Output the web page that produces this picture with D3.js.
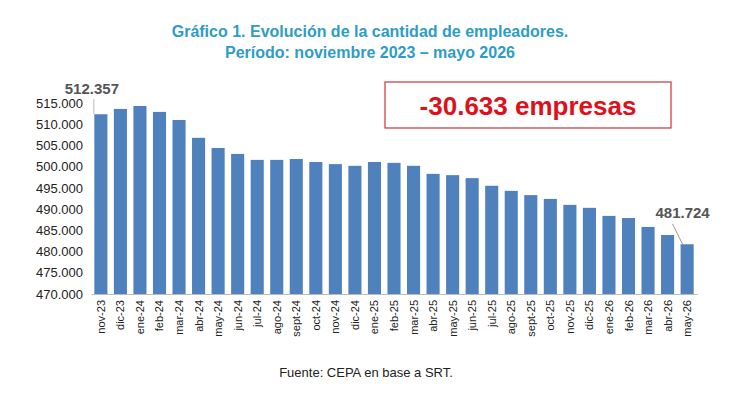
<!DOCTYPE html>
<html><head><meta charset="utf-8">
<script src="https://cdn.jsdelivr.net/npm/d3@7"></script>
<style>body{margin:0;background:#fff;font-family:Arial,"Liberation Sans",sans-serif}</style>
</head><body><svg id="c" width="740" height="400"></svg>
<script>
const categories=["nov-23","dic-23","ene-24","feb-24","mar-24","abr-24","may-24","jun-24","jul-24","ago-24","sept-24","oct-24","nov-24","dic-24","ene-25","feb-25","mar-25","abr-25","may-25","jun-25","jul-25","ago-25","sept-25","oct-25","nov-25","dic-25","ene-26","feb-26","mar-26","abr-26","may-26"];
const values=[512357,513600,514300,512900,511000,506800,504400,503000,501600,501600,501800,501100,500600,500200,501100,500900,500200,498300,498000,497300,495500,494300,493300,492400,491000,490300,488400,487900,485800,483900,481724];
const yTicks=[470000,475000,480000,485000,490000,495000,500000,505000,510000,515000];
const fmt=v=>d3.format(",")(v).replace(/,/g,".");
const svg=d3.select("#c");
const x=d3.scaleBand().domain(categories).range([91,697]).paddingInner(0.33).paddingOuter(0.17);
const y=d3.scaleLinear().domain([470000,515000]).range([294,103]);
svg.append("text").attr("x",370).attr("y",37).attr("text-anchor","middle").attr("fill","#2e9cc6").attr("font-weight","bold").attr("font-size",16).text("Gráfico 1. Evolución de la cantidad de empleadores.");
svg.append("text").attr("x",370).attr("y",58).attr("text-anchor","middle").attr("fill","#2e9cc6").attr("font-weight","bold").attr("font-size",16).text("Período: noviembre 2023 – mayo 2026");
svg.selectAll("rect.b").data(values).join("rect").attr("class","b")
 .attr("x",(d,i)=>x(categories[i])).attr("width",x.bandwidth())
 .attr("y",d=>y(d)).attr("height",d=>294-y(d)).attr("fill","#4f81bd");
const ya=svg.append("g").attr("transform","translate(86,0)").call(d3.axisLeft(y).tickValues(yTicks).tickFormat(fmt).tickSize(0));
ya.select(".domain").remove();
ya.selectAll("text").attr("font-size",13).attr("fill","#222").attr("font-family","Arial,'Liberation Sans',sans-serif");
const xa=svg.append("g").attr("transform","translate(0,294)").call(d3.axisBottom(x).tickSize(0));
xa.select(".domain").attr("stroke","#bbb");
xa.selectAll("text").attr("font-size",11).attr("fill","#222").attr("font-family","Arial,'Liberation Sans',sans-serif")
 .attr("transform","rotate(-90)").attr("text-anchor","end").attr("dx",-6).attr("dy",4).attr("x",0).attr("y",0);
// annotations
const f=categories[0], l=categories[categories.length-1];
svg.append("line").attr("x1",x(f)+x.bandwidth()/2-7).attr("x2",x(f)+x.bandwidth()/2-7).attr("y1",99).attr("y2",y(values[0])).attr("stroke","#bbb");
svg.append("text").attr("x",x(f)+x.bandwidth()/2-9).attr("y",94).attr("text-anchor","middle").attr("font-size",15).attr("font-weight","bold").attr("fill","#555").text(fmt(values[0]));
svg.append("line").attr("x1",x(l)-8).attr("x2",x(l)+2).attr("y1",224).attr("y2",y(values[30])).attr("stroke","#999");
svg.append("text").attr("x",x(l)+2).attr("y",218).attr("text-anchor","middle").attr("font-size",15).attr("font-weight","bold").attr("fill","#555").text(fmt(values[30]));
svg.append("rect").attr("x",385).attr("y",82).attr("width",286).attr("height",46).attr("fill","#fff").attr("stroke","#d03030").attr("stroke-width",1.2);
svg.append("text").attr("x",528).attr("y",115).attr("text-anchor","middle").attr("font-size",26).attr("font-weight","bold").attr("fill","#e0101a").text("-30.633 empresas");
svg.append("text").attr("x",366).attr("y",377).attr("text-anchor","middle").attr("font-size",13).attr("fill","#222").text("Fuente: CEPA en base a SRT.");
</script></body></html>
